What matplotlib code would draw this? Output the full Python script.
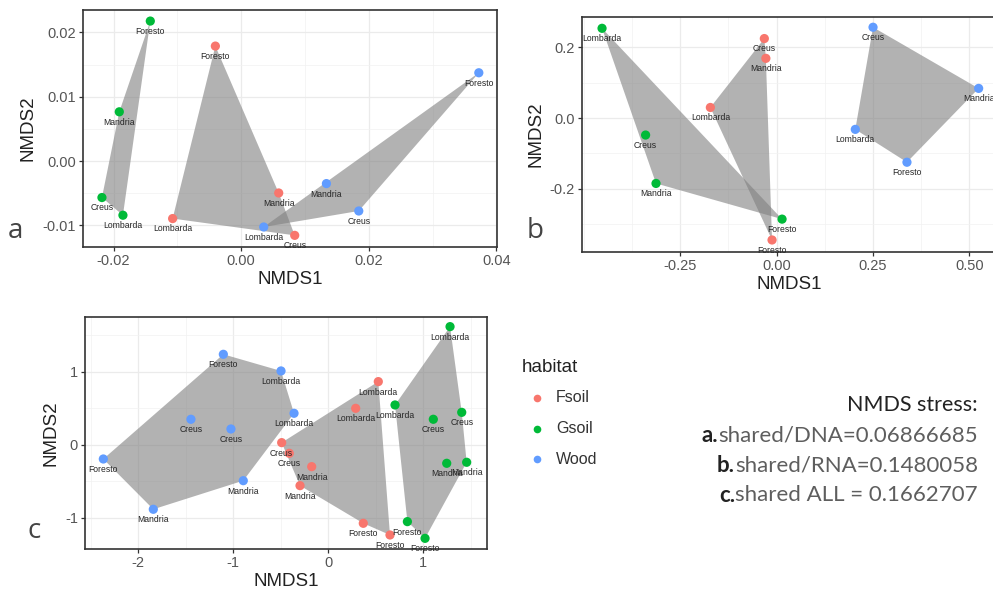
import matplotlib
matplotlib.use("Agg")
import matplotlib.pyplot as plt
import numpy as np
from matplotlib.ticker import MultipleLocator

W, H = 993, 595

# habitat colours (ggplot default hue)
habitats = ["Fsoil", "Gsoil", "Wood"]
hab_colors = {"Fsoil": "#F8766D", "Gsoil": "#00BA38", "Wood": "#619CFF"}

# panel a: shared / DNA
a_site = ["Foresto", "Mandria", "Creus", "Lombarda",
          "Foresto", "Mandria", "Lombarda", "Creus",
          "Foresto", "Mandria", "Creus", "Lombarda"]
a_hab = ["Gsoil"] * 4 + ["Fsoil"] * 4 + ["Wood"] * 4
a_x = [-0.01425, -0.01911, -0.02183, -0.01854,
       -0.00405, 0.00588, -0.01075, 0.00839,
       0.03725, 0.01336, 0.01843, 0.00353]
a_y = [0.02176, 0.00765, -0.00568, -0.00843,
       0.01787, -0.00497, -0.00895, -0.01156,
       0.01372, -0.00351, -0.00777, -0.01026]

# panel b: shared / RNA
b_site = ["Lombarda", "Creus", "Mandria", "Foresto",
          "Creus", "Mandria", "Lombarda", "Foresto",
          "Creus", "Mandria", "Lombarda", "Foresto"]
b_hab = ["Gsoil"] * 4 + ["Fsoil"] * 4 + ["Wood"] * 4
b_x = [-0.453, -0.340, -0.313, 0.014,
       -0.032, -0.028, -0.172, -0.012,
       0.250, 0.524, 0.204, 0.338]
b_y = [0.254, -0.048, -0.185, -0.286,
       0.225, 0.169, 0.030, -0.345,
       0.257, 0.084, -0.032, -0.125]

# panel c: shared ALL
c_site = ["Foresto", "Lombarda", "Creus", "Creus", "Lombarda", "Foresto", "Mandria", "Mandria",
          "Lombarda", "Lombarda", "Creus", "Creus", "Mandria", "Mandria", "Foresto", "Foresto",
          "Lombarda", "Lombarda", "Creus", "Creus", "Mandria", "Mandria", "Foresto", "Foresto"]
c_hab = ["Wood"] * 8 + ["Fsoil"] * 8 + ["Gsoil"] * 8
c_x = [-1.105, -0.498, -1.446, -1.025, -0.361, -2.368, -0.895, -1.842,
       0.526, 0.288, -0.491, -0.411, -0.175, -0.298, 0.368, 0.649,
       1.281, 0.702, 1.105, 1.404, 1.246, 1.456, 0.832, 1.018]
c_y = [1.242, 1.014, 0.352, 0.219, 0.434, -0.192, -0.489, -0.881,
       0.868, 0.502, 0.032, -0.114, -0.297, -0.557, -1.073, -1.233,
       1.621, 0.548, 0.352, 0.447, -0.251, -0.237, -1.050, -1.279]

stress_title = "NMDS stress:"
stress_prefix = ["a.", "b.", "c."]
stress_text = ["shared/DNA=0.06866685", "shared/RNA=0.1480058", "shared ALL = 0.1662707"]


def hull(points):
    pts = sorted(set(points))
    if len(pts) < 3:
        return pts

    def cross(o, a, b):
        return (a[0] - o[0]) * (b[1] - o[1]) - (a[1] - o[1]) * (b[0] - o[0])

    lower, upper = [], []
    for p in pts:
        while len(lower) >= 2 and cross(lower[-2], lower[-1], p) <= 0:
            lower.pop()
        lower.append(p)
    for p in reversed(pts):
        while len(upper) >= 2 and cross(upper[-2], upper[-1], p) <= 0:
            upper.pop()
        upper.append(p)
    return lower[:-1] + upper[:-1]


def px_box(left, right, top, bottom):
    return [left / W, 1 - bottom / H, (right - left) / W, (bottom - top) / H]


def nmds_panel(ax, xs, ys, habs, sites, xlim, ylim, xticks, xlabels, yticks, ylabels):
    for h in habitats:
        pts = [(x, y) for x, y, g in zip(xs, ys, habs) if g == h]
        poly = np.array(hull(pts))
        ax.fill(poly[:, 0], poly[:, 1], color="#808080", alpha=0.6, lw=0, zorder=2)
    ax.scatter(xs, ys, c=[hab_colors[h] for h in habs], s=44, lw=0, zorder=3)
    for x, y, s in zip(xs, ys, sites):
        ax.annotate(s, (x, y), xytext=(0, -7.5), textcoords="offset points",
                    ha="center", va="center", fontsize=6.2, color="#262626",
                    zorder=4, annotation_clip=False)
    ax.set_xlim(*xlim)
    ax.set_ylim(*ylim)
    ax.set_xticks(xticks)
    ax.set_xticklabels(xlabels)
    ax.set_yticks(yticks)
    ax.set_yticklabels(ylabels)
    dx = (xticks[1] - xticks[0]) / 2
    dy = (yticks[1] - yticks[0]) / 2
    ax.xaxis.set_minor_locator(MultipleLocator(dx))
    ax.yaxis.set_minor_locator(MultipleLocator(dy))
    ax.grid(True, which="major", color="#ebebeb", lw=0.9, zorder=0)
    ax.grid(True, which="minor", color="#f2f2f2", lw=0.5, zorder=0)
    ax.tick_params(which="minor", length=0)
    ax.tick_params(which="major", length=3, width=0.9, color="#333333",
                   labelsize=10.5, labelcolor="#555555", pad=2)
    for sp in ax.spines.values():
        sp.set_color("#333333")
        sp.set_linewidth(1.2)
    ax.set_axisbelow(True)
    ax.set_xlabel("NMDS1", fontsize=13.5, color="#222222", labelpad=2)
    ax.set_ylabel("NMDS2", fontsize=13.5, color="#222222", labelpad=4)


plt.rcParams["font.family"] = ["Liberation Sans", "DejaVu Sans"]
fig = plt.figure(figsize=(W / 100, H / 100), dpi=100)

ax_a = fig.add_axes(px_box(83, 497, 10, 247))
nmds_panel(ax_a, a_x, a_y, a_hab, a_site, (-0.0248, 0.0401), (-0.01337, 0.02348),
           [-0.02, 0.0, 0.02, 0.04], ["-0.02", "0.00", "0.02", "0.04"],
           [-0.01, 0.0, 0.01, 0.02], ["-0.01", "0.00", "0.01", "0.02"])

ax_b = fig.add_axes(px_box(582, 996, 17, 252))
nmds_panel(ax_b, b_x, b_y, b_hab, b_site, (-0.505, 0.569), (-0.379, 0.286),
           [-0.25, 0.0, 0.25, 0.5], ["-0.25", "0.00", "0.25", "0.50"],
           [-0.2, 0.0, 0.2], ["-0.2", "0.0", "0.2"])

ax_c = fig.add_axes(px_box(85, 487, 317, 549))
nmds_panel(ax_c, c_x, c_y, c_hab, c_site, (-2.561, 1.67), (-1.425, 1.753),
           [-2, -1, 0, 1], ["-2", "-1", "0", "1"],
           [-1, 0, 1], ["-1", "0", "1"])

# panel letters
for lbl, (px, py) in zip("abc", [(15, 231), (535, 231), (34, 531)]):
    fig.text(px / W, 1 - py / H, lbl, fontsize=20, color="#444444",
             family=["Open Sans", "DejaVu Sans"], ha="center", va="center")

# legend
fig.text(522 / W, 1 - 367 / H, "habitat", fontsize=13.5, color="#222222",
         ha="left", va="center")
for i, h in enumerate(habitats):
    yy = 1 - (398 + i * 30.5) / H
    fig.add_artist(plt.Line2D([537 / W], [yy], marker="o", ms=5.5, mew=0,
                              color=hab_colors[h], transform=fig.transFigure))
    fig.text(556 / W, yy, h, fontsize=11.5, color="#333333", ha="left", va="center")

# stress annotation
xr = 978 / W
fig.text(xr, 1 - 405 / H, stress_title, fontsize=15.5, color="#222222",
         family=["Lato", "DejaVu Sans"], ha="right", va="center")
fig.canvas.draw()
renderer = fig.canvas.get_renderer()
for i, (pre, txt) in enumerate(zip(stress_prefix, stress_text)):
    yy = 1 - (435 + i * 30) / H
    t = fig.text(xr, yy, txt, fontsize=16, color="#5e5e5e",
                 family=["Lato", "DejaVu Sans"], ha="right", va="center")
    bb = t.get_window_extent(renderer=renderer)
    fig.text(bb.x0 / fig.bbox.width, yy, pre, fontsize=16, color="#222222",
             fontweight="bold", family=["Lato", "DejaVu Sans"], ha="right", va="center")

fig.savefig("out.png", dpi=100)
